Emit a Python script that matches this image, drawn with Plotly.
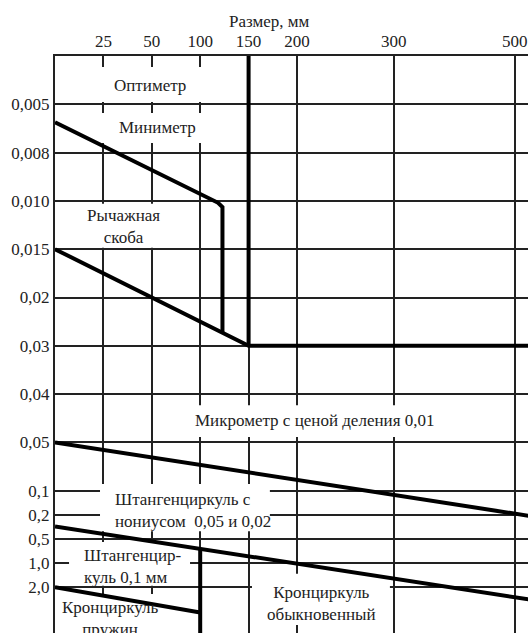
import plotly.graph_objects as go

# ---- axis data -------------------------------------------------------------
size_labels = ["25", "50", "100", "150", "200", "300", "500"]          # размер, мм
size_cols = [1, 2, 3, 4, 5, 7, 9.5]                                     # grid column of each size
acc_labels = ["0,005", "0,008", "0,010", "0,015", "0,02", "0,03", "0,04",
              "0,05", "0,1", "0,2", "0,5", "1,0", "2,0"]               # погрешность, мм
acc_rows = [1, 2, 3, 4, 5, 6, 7, 8, 9, 9.5, 10, 10.5, 11]               # grid row of each value

# ---- boundary lines between instrument zones (column, row) ------------------
minimeter_x = [0, 3.37, 3.46, 3.46]
minimeter_y = [1.37, 3.04, 3.13, 5.72]
lever_x = [0, 4, 10.5]
lever_y = [4, 6, 6]
optimeter_x = [4, 4]
optimeter_y = [0, 6]
micrometer_x = [0, 10.5]
micrometer_y = [8.0, 9.63]
vernier_x = [0, 10.5]
vernier_y = [9.74, 11.36]
vernier01_x = [3, 3]
vernier01_y = [10.2, 12.6]
spring_x = [0, 3]
spring_y = [11.0, 11.52]

# ---- zone labels ---------------------------------------------------------------
zone_text = ["Оптиметр", "Миниметр", "Рычажная<br>скоба",
             "Микрометр с ценой деления 0,01",
             "Штангенциркуль с<br>нониусом &nbsp;0,05 и 0,02",
             "Штангенцир-<br>куль 0,1 мм",
             "Кронциркуль<br>пружин",
             "Кронциркуль<br>обыкновенный"]
zone_x = [1.96, 2.11, 1.42, 5.37, 1.2, 0.56, 1.14, 5.5]
zone_y = [0.62, 1.47, 3.54, 7.54, 9.41, 10.56, 11.64, 11.33]
zone_anchor = ["center", "center", "center", "center", "left", "left", "center", "center"]

# white label plates hiding the grid (x0, x1, y0, y1)
plates = [(0.06, 3.82, 0.23, 0.95), (0.06, 3.82, 1.18, 1.80), (0.04, 2.52, 3.06, 3.97),
          (2.69, 7.95, 7.23, 7.89), (0.93, 4.44, 8.86, 9.84), (0.29, 2.79, 10.06, 10.97),
          (0.04, 2.91, 11.14, 12.3), (4.07, 6.92, 10.72, 11.78)]

FONT = "Liberation Serif, Times New Roman, DejaVu Serif, serif"

fig = go.Figure()
for xs, ys in [(minimeter_x, minimeter_y), (lever_x, lever_y), (optimeter_x, optimeter_y),
               (micrometer_x, micrometer_y), (vernier_x, vernier_y),
               (vernier01_x, vernier01_y), (spring_x, spring_y)]:
    fig.add_trace(go.Scatter(x=xs, y=ys, mode="lines", hoverinfo="skip",
                             line=dict(color="#000000", width=4)))

for x0, x1, y0, y1 in plates:
    fig.add_shape(type="rect", x0=x0, x1=x1, y0=y0, y1=y1, layer="between",
                  fillcolor="white", line=dict(width=0))

for t, x, y, a in zip(zone_text, zone_x, zone_y, zone_anchor):
    fig.add_annotation(text=t, x=x, y=y, xanchor=a, yanchor="middle", showarrow=False,
                       align=a,
                       font=dict(family=FONT, size=17, color="#222"))

fig.add_annotation(text="Размер, мм", x=4.44, y=1, xref="x", yref="paper",
                   yshift=35, yanchor="middle", showarrow=False,
                   font=dict(family=FONT, size=17, color="#222"))

fig.update_layout(width=528, height=633, margin=dict(l=55, r=0, t=56, b=0, pad=0),
                  paper_bgcolor="white", plot_bgcolor="white", showlegend=False,
                  font=dict(family=FONT, size=17, color="#222"))
fig.update_xaxes(range=[0, 9.773], side="top", tickvals=size_cols, ticktext=size_labels,
                 showgrid=True, gridcolor="#222", gridwidth=1.6, showline=True,
                 linecolor="#222", linewidth=2, ticks="", zeroline=False, fixedrange=True)
fig.update_yaxes(range=[11.946, 0], tickvals=acc_rows, ticktext=acc_labels,
                 showgrid=True, gridcolor="#222", gridwidth=1.6, showline=True,
                 linecolor="#222", linewidth=2, ticks="", zeroline=False, fixedrange=True)

fig.write_html("out.html", config={"displayModeBar": False},
               post_script="document.body.style.margin='0';document.body.style.padding='0';")
